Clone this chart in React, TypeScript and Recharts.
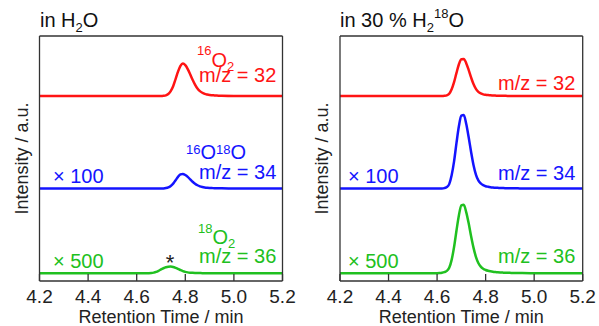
import React from "react";
import { LineChart, Line, XAxis, YAxis } from "recharts";

// retention time (min)
const times = [
  4.2, 4.4, 4.5, 4.55,
  4.6, 4.61, 4.62, 4.63, 4.64, 4.65, 4.66, 4.67, 4.68, 4.69,
  4.7, 4.71, 4.72, 4.73, 4.74, 4.75, 4.76, 4.77, 4.78, 4.79,
  4.8, 4.81, 4.82, 4.83, 4.84, 4.85, 4.86, 4.87, 4.88, 4.89,
  4.9, 4.91, 4.92, 4.93, 4.94, 4.95,
  5.0, 5.1, 5.2,
];

// vertical offsets of the stacked traces
const offsets = { m32: 3.02, m34: 1.51, m36: 0.125 };

// in H2O
const h2oM32 = [
  0, 0, 0, 0,
  0, 0, 0, 0, 0, 0, 0, 0, 0, 0,
  0, 0.003, 0.011, 0.032, 0.08, 0.159, 0.276, 0.398, 0.493, 0.53,
  0.504, 0.44, 0.355, 0.265, 0.186, 0.122, 0.08, 0.053, 0.034, 0.024,
  0.017, 0.013, 0.01, 0.007, 0.006, 0.005,
  0.002, 0.001, 0,
];
const h2oM34 = [
  0, 0, 0, 0,
  0, 0, 0, 0, 0, 0, 0, 0, 0, 0,
  0, 0.002, 0.007, 0.018, 0.042, 0.08, 0.135, 0.19, 0.23, 0.238,
  0.22, 0.19, 0.15, 0.11, 0.078, 0.053, 0.036, 0.025, 0.017, 0.012,
  0.009, 0.007, 0.005, 0.004, 0.003, 0.003,
  0.001, 0, 0,
];
const h2oM36 = [
  0, 0, 0, 0,
  0, 0, 0, 0, 0.001, 0.002, 0.005, 0.012, 0.024, 0.042,
  0.063, 0.083, 0.099, 0.108, 0.11, 0.104, 0.09, 0.072, 0.053, 0.036,
  0.024, 0.016, 0.011, 0.008, 0.006, 0.005, 0.004, 0.003, 0.003, 0.002,
  0.002, 0.002, 0.002, 0.001, 0.001, 0.001,
  0.001, 0, 0,
];

// in 30 % H2 18O
const h218oM32 = [
  0, 0, 0, 0,
  0, 0, 0, 0.003, 0.012, 0.037, 0.11, 0.226, 0.378, 0.519,
  0.6, 0.605, 0.537, 0.427, 0.305, 0.195, 0.116, 0.067, 0.043, 0.027,
  0.02, 0.015, 0.011, 0.009, 0.007, 0.005, 0.004, 0.004, 0.003, 0.002,
  0.002, 0.002, 0.002, 0.001, 0.001, 0.001,
  0, 0, 0,
];
const h218oM34 = [
  0, 0, 0, 0,
  0, 0, 0, 0.006, 0.024, 0.072, 0.216, 0.444, 0.744, 1.02,
  1.19, 1.2, 1.056, 0.84, 0.6, 0.384, 0.228, 0.132, 0.084, 0.054,
  0.038, 0.029, 0.022, 0.017, 0.013, 0.011, 0.008, 0.007, 0.006, 0.005,
  0.005, 0.004, 0.004, 0.003, 0.002, 0.002,
  0.001, 0, 0,
];
const h218oM36 = [
  0, 0, 0, 0.001,
  0.003, 0.005, 0.01, 0.02, 0.04, 0.09, 0.22, 0.43, 0.7, 0.95,
  1.11, 1.12, 1.0, 0.82, 0.61, 0.42, 0.27, 0.17, 0.11, 0.075,
  0.055, 0.042, 0.033, 0.026, 0.021, 0.017, 0.014, 0.012, 0.01, 0.009,
  0.008, 0.007, 0.006, 0.005, 0.005, 0.004,
  0.003, 0.001, 0,
];

const xTicks = [4.2, 4.4, 4.6, 4.8, 5.0, 5.2];
const yTicks = [1, 2, 3];

const RED = "#ff1414";
const BLUE = "#1414ff";
const GREEN = "#20c020";
const AXIS = "#333";
const FONT = "'Liberation Sans', Arial, sans-serif";

function buildRows(m32: number[], m34: number[], m36: number[]) {
  return times.map((t, i) => ({
    t,
    m32: m32[i] + offsets.m32,
    m34: m34[i] + offsets.m34,
    m36: m36[i] + offsets.m36,
  }));
}

const h2oRows = buildRows(h2oM32, h2oM34, h2oM36);
const h218oRows = buildRows(h218oM32, h218oM34, h218oM36);

// bottom tick: inward tick mark plus label below the axis
const BottomTick = (props: any) => {
  const { x, y, payload } = props;
  return (
    <g>
      <line x1={x} x2={x} y1={y - 9} y2={y - 16} stroke={AXIS} strokeWidth={1.3} />
      <text x={x} y={y + 13} textAnchor="middle" fontSize={19} fill="#222">
        {Number(payload.value).toFixed(1)}
      </text>
    </g>
  );
};

type PanelProps = {
  rows: ReturnType<typeof buildRows>;
  width: number;
  left: number;
  marginLeft: number;
  marginRight: number;
};

function Panel({ rows, width, left, marginLeft, marginRight }: PanelProps) {
  return (
    <div style={{ position: "absolute", left, top: 0 }}>
      <LineChart
        width={width}
        height={326}
        data={rows}
        margin={{ top: 36, right: marginRight, bottom: 0, left: marginLeft }}
      >
        <XAxis
          dataKey="t"
          type="number"
          domain={[4.2, 5.2]}
          ticks={xTicks}
          height={45}
          tickLine={false}
          tickSize={0}
          tickMargin={9}
          tick={<BottomTick />}
          stroke={AXIS}
          strokeWidth={1.3}
          label={{
            value: "Retention Time / min",
            position: "insideBottom",
            offset: 3,
            fontSize: 18,
            fill: "#222",
          }}
        />
        <XAxis
          xAxisId="top"
          dataKey="t"
          orientation="top"
          type="number"
          domain={[4.2, 5.2]}
          ticks={xTicks}
          height={1}
          mirror
          tickSize={7}
          tick={false}
          stroke={AXIS}
          strokeWidth={1.3}
        />
        <YAxis
          type="number"
          domain={[0, 4]}
          ticks={yTicks}
          width={1}
          mirror
          tickSize={7}
          tick={false}
          stroke={AXIS}
          strokeWidth={1.3}
          label={{
            value: "Intensity / a.u.",
            angle: -90,
            position: "center",
            dx: -18.5,
            fontSize: 18,
            fill: "#222",
          }}
        />
        <YAxis
          yAxisId="right"
          orientation="right"
          type="number"
          domain={[0, 4]}
          ticks={yTicks}
          width={1}
          mirror
          tickSize={7}
          tick={false}
          stroke={AXIS}
          strokeWidth={1.3}
        />
        <Line
          xAxisId="top"
          yAxisId="right"
          type="monotone"
          dataKey="m32"
          stroke={RED}
          strokeWidth={2.5}
          dot={false}
          isAnimationActive={false}
        />
        <Line type="monotone" dataKey="m34" stroke={BLUE} strokeWidth={2.5} dot={false} isAnimationActive={false} />
        <Line type="monotone" dataKey="m36" stroke={GREEN} strokeWidth={2.5} dot={false} isAnimationActive={false} />
      </LineChart>
    </div>
  );
}

function Labels() {
  return (
    <svg
      width={599}
      height={326}
      style={{ position: "absolute", left: 0, top: 0, pointerEvents: "none" }}
      fontFamily={FONT}
    >
      {/* titles */}
      <text x={40} y={27} fontSize={20} fill="#111">
        in H<tspan fontSize={13} y={32}>2</tspan>
        <tspan y={27}>O</tspan>
      </text>
      <text x={340} y={27} fontSize={20} fill="#111">
        in 30 % H<tspan fontSize={13} y={32}>2</tspan>
        <tspan fontSize={13} y={18}>18</tspan>
        <tspan y={27}>O</tspan>
      </text>

      {/* left panel */}
      <text x={197} y={67} fontSize={20} fill={RED}>
        <tspan fontSize={13} y={55}>16</tspan>
        <tspan y={67}>O</tspan>
        <tspan fontSize={13} y={71}>2</tspan>
      </text>
      <text x={199} y={82} fontSize={20} fill={RED}>m/z = 32</text>
      <text x={186} y={159} fontSize={20} fill={BLUE}>
        <tspan fontSize={13} y={154}>16</tspan>
        <tspan y={159}>O</tspan>
        <tspan fontSize={13} y={154}>18</tspan>
        <tspan y={159}>O</tspan>
      </text>
      <text x={199} y={179} fontSize={20} fill={BLUE}>m/z = 34</text>
      <text x={53} y={183} fontSize={20} fill={BLUE}>× 100</text>
      <text x={198} y={244} fontSize={20} fill={GREEN}>
        <tspan fontSize={13} y={233}>18</tspan>
        <tspan y={244}>O</tspan>
        <tspan fontSize={13} y={248}>2</tspan>
      </text>
      <text x={199} y={263} fontSize={20} fill={GREEN}>m/z = 36</text>
      <text x={53} y={268} fontSize={20} fill={GREEN}>× 500</text>
      <text x={170} y={270} fontSize={22} fill="#222" textAnchor="middle">*</text>

      {/* right panel */}
      <text x={498} y={90} fontSize={20} fill={RED}>m/z = 32</text>
      <text x={498} y={180} fontSize={20} fill={BLUE}>m/z = 34</text>
      <text x={348} y={183} fontSize={20} fill={BLUE}>× 100</text>
      <text x={498} y={263} fontSize={20} fill={GREEN}>m/z = 36</text>
      <text x={348} y={268} fontSize={20} fill={GREEN}>× 500</text>
    </svg>
  );
}

export default function App() {
  return (
    <div
      style={{
        position: "absolute",
        left: 0,
        top: 0,
        width: 599,
        height: 326,
        background: "#fff",
        fontFamily: FONT,
      }}
    >
      <Panel rows={h2oRows} width={300} left={0} marginLeft={39.5} marginRight={17.5} />
      <Panel rows={h218oRows} width={299} left={300} marginLeft={40} marginRight={16.3} />
      <Labels />
    </div>
  );
}
